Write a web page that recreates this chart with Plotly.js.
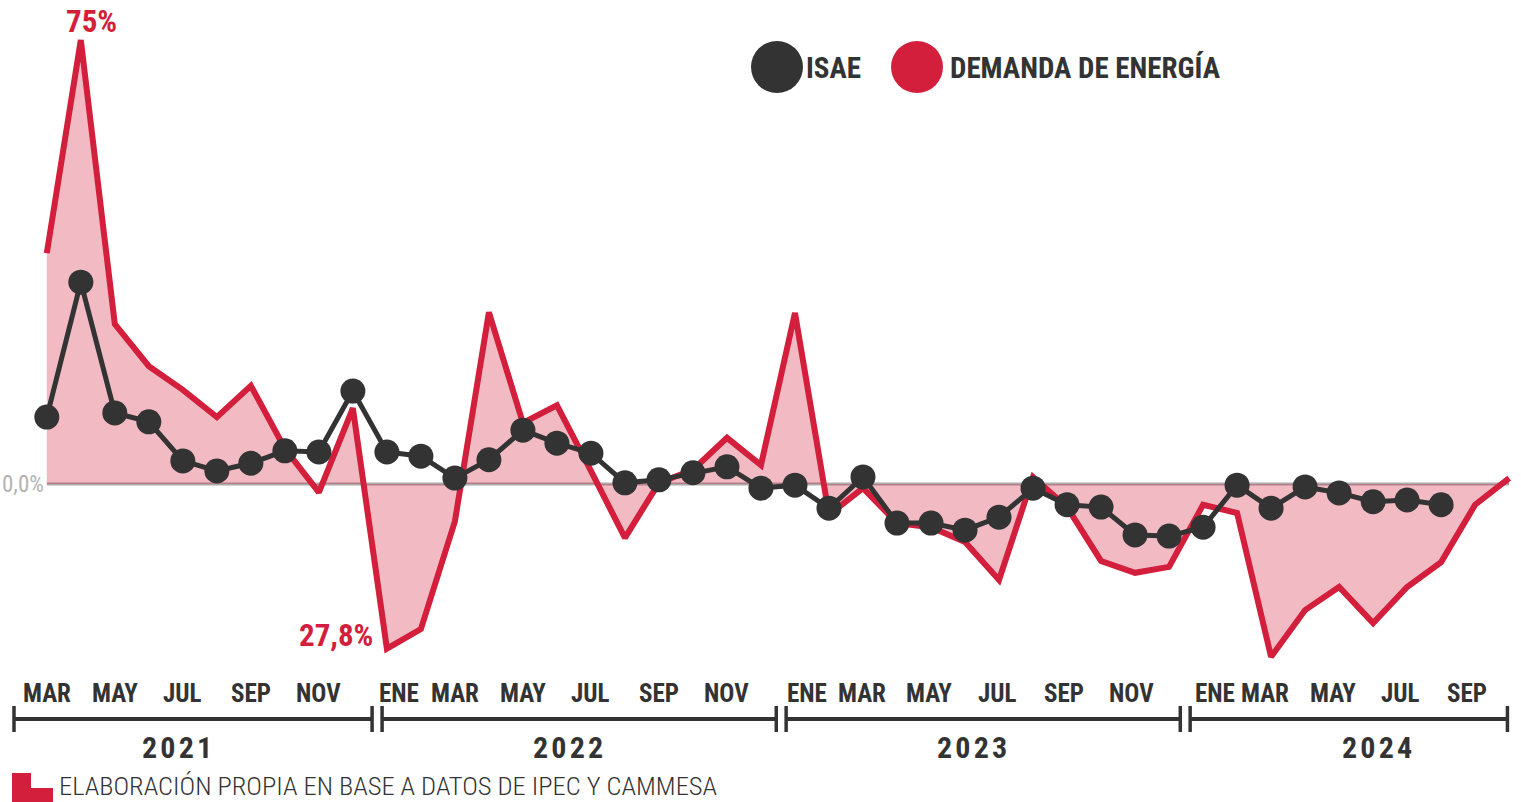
<!DOCTYPE html>
<html>
<head>
<meta charset="utf-8">
<script src="https://cdn.plot.ly/plotly-3.0.1.min.js"></script>
<style>html,body{margin:0;padding:0;background:#fff;overflow:hidden}</style>
</head>
<body>
<div id="chart" style="width:1521px;height:802px"></div>
<script>
// ---- DATA ----
const periods = [
  '2021-03','2021-04','2021-05','2021-06','2021-07','2021-08','2021-09','2021-10','2021-11','2021-12',
  '2022-01','2022-02','2022-03','2022-04','2022-05','2022-06','2022-07','2022-08','2022-09','2022-10','2022-11','2022-12',
  '2023-01','2023-02','2023-03','2023-04','2023-05','2023-06','2023-07','2023-08','2023-09','2023-10','2023-11','2023-12',
  '2024-01','2024-02','2024-03','2024-04','2024-05','2024-06','2024-07','2024-08','2024-09','2024-10'
];
// Demanda de energía, variación interanual (%)
const demanda = [
  39.0, 75.0, 27.0, 19.9, 15.9, 11.3, 16.6, 6.0, -1.4, 12.8,
  -27.8, -24.5, -6.3, 29.0, 10.3, 13.3, 2.2, -9.1, 0.2, 2.4, 7.8, 3.2,
  28.9, -5.2, -0.7, -6.6, -7.3, -9.8, -16.2, 1.2, -3.9, -13.0, -15.0, -14.0,
  -3.5, -4.9, -29.2, -21.3, -17.4, -23.5, -17.4, -13.2, -3.5, 1.0
];
// ISAE, variación interanual (%) — hasta agosto 2024
const isae = [
  11.3, 34.1, 12.0, 10.5, 3.9, 2.2, 3.5, 5.6, 5.4, 15.7,
  5.4, 4.7, 1.0, 4.1, 9.1, 6.9, 5.2, 0.2, 0.7, 1.9, 2.9, -0.7,
  -0.2, -4.1, 1.2, -6.6, -6.6, -7.8, -5.6, -0.7, -3.5, -3.9, -8.6, -8.8,
  -7.3, -0.2, -4.1, -0.5, -1.5, -3.0, -2.7, -3.5
];
const monthTicks = ['2021-03','2021-05','2021-07','2021-09','2021-11',
  '2022-01','2022-03','2022-05','2022-07','2022-09','2022-11',
  '2023-01','2023-03','2023-05','2023-07','2023-09','2023-11',
  '2024-01','2024-03','2024-05','2024-07','2024-09'];
const monthText = ['MAR','MAY','JUL','SEP','NOV',
  'ENE','MAR','MAY','JUL','SEP','NOV',
  'ENE','MAR','MAY','JUL','SEP','NOV',
  'ENE','MAR','MAY','JUL','SEP'];
const years = ['2021','2022','2023','2024'];
const seriesNames = ['ISAE','DEMANDA DE ENERGÍA'];
const peakLabel = '75%';
const lowLabel = '27,8%';
const zeroLabel = '0,0%';
const sourceText = 'ELABORACIÓN PROPIA EN BASE A DATOS DE IPEC Y CAMMESA';

// ---- STYLE / GEOMETRY ----
const W = 1521, H = 802;
const M = {l: 6, r: 2, t: 0, b: 0};
const RED = '#D31E3C', DARK = '#333333', GREY = '#ababab';
const COND = 'Roboto Condensed, Liberation Sans Narrow, DejaVu Sans Condensed, sans-serif';
const PW = W - M.l - M.r, PH = H - M.t - M.b;
const px2x = p => (p - M.l) / PW;          // pixel -> paper x
const py2y = p => 1 - (p - M.t) / PH;      // pixel -> paper y
const XR = [-1.2, 43.29];
const idx2px = i => M.l + (i - XR[0]) / (XR[1] - XR[0]) * PW;
const idx2paper = i => px2x(idx2px(i));

const traces = [
  { // zero reference line
    x: periods, y: periods.map(() => 0),
    mode: 'lines', line: {color: GREY, width: 3}, hoverinfo: 'skip', showlegend: false
  },
  { // pink area
    x: periods, y: demanda, mode: 'lines', fill: 'tozeroy',
    fillcolor: 'rgba(211,30,60,0.30)', line: {width: 0, color: 'rgba(0,0,0,0)'},
    hoverinfo: 'skip', showlegend: false
  },
  {
    name: seriesNames[1], x: periods, y: demanda, mode: 'lines',
    line: {color: RED, width: 6}, showlegend: false
  },
  {
    name: seriesNames[0], x: periods.slice(0, isae.length), y: isae, mode: 'lines+markers',
    line: {color: DARK, width: 5}, marker: {color: DARK, size: 25}, showlegend: false
  }
];

const annotations = [];
const shapes = [];

// month labels (the later years sit slightly left of their data month in the original)
monthTicks.forEach((m, k) => {
  const isEne = monthText[k] === 'ENE';
  const i = periods.indexOf(m);
  const drift = i > 22 ? -Math.round((i - 22) * 0.4) : 0;
  annotations.push({
    x: m, xref: 'x', y: py2y(693), yref: 'paper', text: monthText[k], showarrow: false,
    xanchor: 'center', yanchor: 'middle', xshift: isEne ? 12 : drift,
    font: {family: COND, size: 25, color: DARK, weight: 700}
  });
});

// timeline bracket
const TL_Y = 719, TK_TOP = 706, TK_BOT = 732;
const segs = [[-0.965, 9.565], [9.859, 21.45], [21.74, 33.33], [33.62, 42.95]];
segs.forEach(([a, b]) => {
  shapes.push({type: 'line', xref: 'paper', yref: 'paper', x0: idx2paper(a), x1: idx2paper(b),
    y0: py2y(TL_Y), y1: py2y(TL_Y), line: {color: DARK, width: 4}});
  [a, b].forEach(v => shapes.push({type: 'line', xref: 'paper', yref: 'paper',
    x0: idx2paper(v), x1: idx2paper(v), y0: py2y(TK_TOP), y1: py2y(TK_BOT), line: {color: DARK, width: 3.5}}));
});
const yearPos = [3.83, 15.33, 27.21, 39.12];
years.forEach((yr, k) => annotations.push({
  x: idx2paper(yearPos[k]), xref: 'paper', y: py2y(747), yref: 'paper', text: yr.split('').join('\u200A'),
  showarrow: false, xanchor: 'center', yanchor: 'middle',
  font: {family: COND, size: 30, color: DARK, weight: 700}
}));

// zero label
annotations.push({x: px2x(0), xref: 'paper', y: 0, yref: 'y', text: zeroLabel, showarrow: false,
  xanchor: 'left', yanchor: 'middle', font: {family: COND, size: 23, color: '#b3b3b3'}});

// peak / low labels
annotations.push({x: periods[1], xref: 'x', y: 75, yref: 'y', text: peakLabel, showarrow: false,
  xanchor: 'center', yanchor: 'bottom', xshift: 11, yshift: -2,
  font: {family: COND, size: 31, color: RED, weight: 700}});
annotations.push({x: periods[10], xref: 'x', y: -27.8, yref: 'y', text: lowLabel, showarrow: false,
  xanchor: 'right', yanchor: 'middle', xshift: -12, yshift: 13,
  font: {family: COND, size: 31, color: RED, weight: 700}});

// legend
shapes.push({type: 'circle', xref: 'paper', yref: 'paper', x0: px2x(751), x1: px2x(803), y0: py2y(41), y1: py2y(93),
  fillcolor: DARK, line: {width: 0}});
shapes.push({type: 'circle', xref: 'paper', yref: 'paper', x0: px2x(891), x1: px2x(943), y0: py2y(41), y1: py2y(93),
  fillcolor: RED, line: {width: 0}});
annotations.push({x: px2x(804), xref: 'paper', y: py2y(68), yref: 'paper', text: seriesNames[0], showarrow: false,
  xanchor: 'left', yanchor: 'middle', font: {family: COND, size: 29, color: DARK, weight: 700}});
annotations.push({x: px2x(948), xref: 'paper', y: py2y(68), yref: 'paper', text: seriesNames[1], showarrow: false,
  xanchor: 'left', yanchor: 'middle', font: {family: COND, size: 29, color: DARK, weight: 700}});

// source footer
shapes.push({type: 'path', xref: 'paper', yref: 'paper',
  path: `M ${px2x(12)} ${py2y(773)} L ${px2x(31)} ${py2y(773)} L ${px2x(31)} ${py2y(788)} L ${px2x(53)} ${py2y(788)} L ${px2x(53)} ${py2y(802)} L ${px2x(12)} ${py2y(802)} Z`,
  fillcolor: RED, line: {width: 0}});
annotations.push({x: px2x(58), xref: 'paper', y: 0, yref: 'paper', text: sourceText, showarrow: false,
  xanchor: 'left', yanchor: 'bottom', borderpad: 0, font: {family: COND, size: 26.5, color: DARK, weight: 300}});

const layout = {
  width: W, height: H, margin: M, paper_bgcolor: '#fff', plot_bgcolor: '#fff',
  showlegend: false,
  xaxis: {type: 'category', categoryorder: 'array', categoryarray: periods, range: XR, visible: false, fixedrange: true},
  yaxis: {range: [(484 - 802) / 5.92, 484 / 5.92], visible: false, fixedrange: true},
  annotations, shapes
};
Plotly.newPlot('chart', traces, layout, {displayModeBar: false, staticPlot: true});
</script>
</body>
</html>
